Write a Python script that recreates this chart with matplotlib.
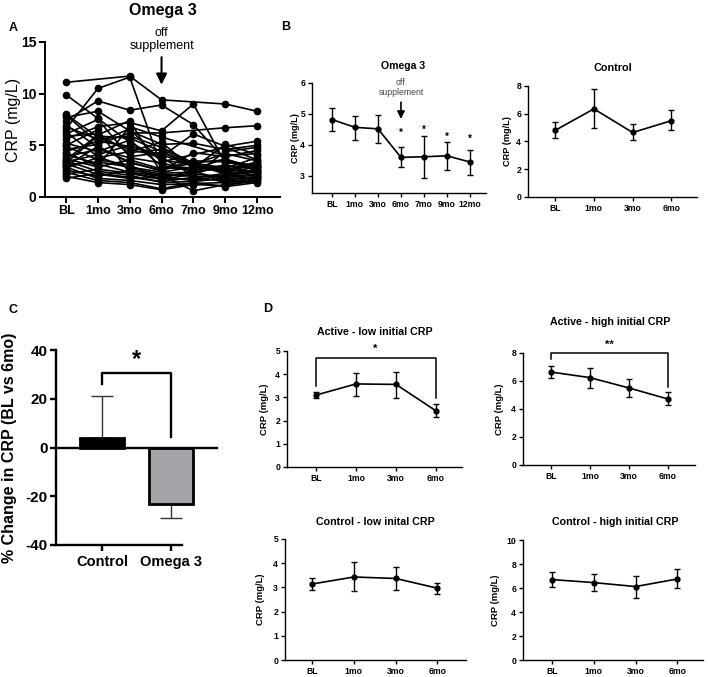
import matplotlib
matplotlib.use('Agg')
import matplotlib.pyplot as plt
import numpy as np

plt.rcParams['font.family'] = ['Liberation Sans', 'DejaVu Sans']
plt.rcParams['font.weight'] = 'bold'
plt.rcParams['axes.labelweight'] = 'bold'
plt.rcParams['axes.unicode_minus'] = False

nan = np.nan

# ---- Panel A: individual CRP (mg/L), omega 3 group ----
timepoints_a = ['BL', '1mo', '3mo', '6mo', '7mo', '9mo', '12mo']
crp_individual = [
    [11.1, nan, 11.7, 9.4, nan, 9.0, 8.3],
    [6.6, 10.5, 11.6, 2.9, 2.6, 3.1, 2.3],
    [9.9, 7.6, 5.3, 3.6, 3.1, 2.7, 2.4],
    [7.4, 9.3, 8.4, 8.9, 7.0, 3.6, 2.9],
    [5.6, 6.8, 7.2, 6.4, 9.0, 3.3, 3.1],
    [4.6, 5.1, 6.2, 6.2, nan, 6.7, 6.9],
    [8.0, 5.8, 4.6, 3.9, 6.1, 4.9, 5.4],
    [7.7, 8.3, 6.4, 5.1, 5.2, 4.6, 5.0],
    [7.0, 4.8, 3.4, 2.5, 4.3, 3.9, 4.5],
    [6.8, 5.6, 5.9, 4.8, 3.3, 2.8, 3.8],
    [6.3, 3.9, 2.8, 2.2, 2.0, 1.9, 2.1],
    [5.9, 6.1, 4.3, 4.6, 3.2, 4.2, 3.5],
    [5.2, 4.4, 5.5, 3.0, 2.8, 5.1, 4.1],
    [4.9, 3.6, 3.1, 1.6, 1.8, 2.3, 2.6],
    [4.4, 5.4, 4.9, 4.1, 3.0, 2.5, 3.2],
    [4.1, 3.2, 2.4, 2.0, 2.3, 3.0, 2.8],
    [3.9, 4.6, 3.8, 3.3, 2.5, 1.6, 2.0],
    [3.7, 2.9, 3.6, 2.7, 3.5, 3.4, 3.0],
    [3.5, 2.5, 2.1, 1.4, 1.5, 1.8, 1.9],
    [3.4, 4.1, 5.0, 3.8, 2.1, 4.4, 4.8],
    [3.2, 2.2, 1.8, 1.9, 1.6, 2.1, 2.4],
    [3.1, 3.4, 2.9, 2.4, 2.9, 2.6, 3.4],
    [2.9, 1.8, 1.6, 1.2, 1.3, 1.4, 1.6],
    [2.8, 3.8, 4.4, 5.3, 2.7, 3.7, 2.7],
    [2.6, 2.0, 2.6, 2.1, 0.6, 1.2, 1.5],
    [2.4, 1.6, 1.4, 0.8, 1.4, 1.0, 1.4],
    [2.2, 2.7, 2.3, 1.7, 2.2, 2.0, 2.2],
    [2.0, 1.4, 1.2, 0.7, 1.2, 1.1, 1.7],
    [1.8, 2.3, 1.9, 1.5, 1.9, 1.5, 1.8],
    [3.6, 6.0, 7.4, 2.3, 2.4, 2.9, 3.1],
    [6.1, 7.5, 3.9, 4.3, nan, 2.2, 2.5],
    [4.3, 3.0, 6.8, 5.8, nan, 4.0, 4.2],
    [3.0, 4.9, 3.3, 2.6, 3.3, 3.6, 2.5],
    [5.0, 6.5, 2.3, 1.8, 2.6, 1.3, 1.9],
    [7.9, 5.3, 6.6, 3.4, nan, 4.8, 3.6],
    [3.3, 5.9, 5.7, 4.4, 2.9, 2.4, 2.9],
]

# ---- Panel B: group means with error bars ----
omega_mean = [4.82, 4.57, 4.52, 3.6, 3.62, 3.65, 3.45]
omega_lo = [4.45, 4.15, 4.05, 3.28, 2.95, 3.18, 3.03]
omega_hi = [5.2, 4.95, 4.98, 3.92, 4.28, 4.08, 3.85]
omega_star = [None, None, None, 4.39, 4.5, 4.26, 4.19]

timepoints_d = ['BL', '1mo', '3mo', '6mo']
control_mean = [4.8, 6.35, 4.65, 5.5]
control_lo = [4.25, 4.95, 4.1, 4.8]
control_hi = [5.4, 7.75, 5.25, 6.25]

# ---- Panel C: % change BL vs 6mo ----
groups_c = ['Control', 'Omega 3']
pct_change = [4.1, -23.3]
pct_err = [17.1, 5.7]

# ---- Panel D: subgroups ----
act_low_mean = [3.1, 3.58, 3.56, 2.42]
act_low_lo = [2.97, 3.06, 2.97, 2.16]
act_low_hi = [3.23, 4.05, 4.1, 2.7]

act_high_mean = [6.64, 6.24, 5.5, 4.71]
act_high_lo = [6.21, 5.52, 4.86, 4.29]
act_high_hi = [7.07, 6.95, 6.14, 5.2]

ctl_low_mean = [3.14, 3.43, 3.37, 2.97]
ctl_low_lo = [2.89, 2.85, 2.89, 2.73]
ctl_low_hi = [3.39, 4.05, 3.84, 3.18]

ctl_high_mean = [6.7, 6.45, 6.12, 6.75]
ctl_high_lo = [6.1, 5.78, 5.2, 6.0]
ctl_high_hi = [7.33, 7.2, 7.0, 7.6]

W, H = 708, 677
fig = plt.figure(figsize=(W / 100, H / 100), dpi=100)


def px_axes(x0, x1, ytop, ybot):
    return fig.add_axes([x0 / W, 1 - ybot / H, (x1 - x0) / W, (ybot - ytop) / H])


def ftxt(x, y, s, **kw):
    kw.setdefault('ha', 'center')
    kw.setdefault('va', 'center')
    fig.text(x / W, 1 - y / H, s, **kw)


def style(ax, lw, size):
    for side in ['top', 'right']:
        ax.spines[side].set_visible(False)
    for side in ['left', 'bottom']:
        ax.spines[side].set_linewidth(lw)
    ax.tick_params(direction='out', width=lw, length=4 if lw > 1.2 else 3,
                   labelsize=size, pad=2)


def mean_plot(ax, labels, mean, lo, hi):
    x = np.arange(len(labels))
    m = np.array(mean)
    yerr = [m - np.array(lo), np.array(hi) - m]
    ax.errorbar(x, m, yerr=yerr, fmt='-o', color='black', ms=3.5, lw=1.2,
                elinewidth=1.0, capsize=2.2, capthick=1.0, clip_on=False)
    ax.set_xticks(x)
    ax.set_xticklabels(labels)


# ---------------- Panel A ----------------
axA = px_axes(45, 280, 42, 197)
xa = np.arange(len(timepoints_a))
for row in crp_individual:
    r = np.array(row)
    ok = ~np.isnan(r)
    axA.plot(xa[ok], r[ok], '-o', color='black', lw=1.2, ms=4.5, clip_on=False)
axA.set_xlim(-0.66, 6.72)
axA.set_ylim(0, 15)
axA.set_yticks([0, 5, 10, 15])
axA.set_xticks(xa)
axA.set_xticklabels(timepoints_a)
style(axA, 1.4, 9)
axA.tick_params(axis='y', labelsize=10)
axA.set_ylabel('CRP (mg/L)', fontsize=11.5, fontweight='normal')
axA.yaxis.set_label_coords((21 - 45) / 235, 0.5)
axA.text(3, 16.45, 'off\nsupplement', ha='center', va='top', fontsize=9,
         fontweight='normal', linespacing=1.15, clip_on=False)
axA.annotate('', xy=(3, 10.6), xytext=(3, 13.8), annotation_clip=False,
             arrowprops=dict(arrowstyle='-|>', lw=1.5, color='black',
                             mutation_scale=16))
ftxt(163, 11, 'Omega 3', fontsize=11.5)
ftxt(13, 28, 'A', fontsize=9)

# ---------------- Panel B left ----------------
axB = px_axes(312, 486, 83, 193)
mean_plot(axB, timepoints_a, omega_mean, omega_lo, omega_hi)
axB.set_xlim(-0.87, 6.70)
axB.set_ylim(2.45, 6)
axB.set_yticks([3, 4, 5, 6])
style(axB, 1.0, 6.2)
axB.set_ylabel('CRP (mg/L)', fontsize=6.6)
axB.yaxis.set_label_coords((300 - 312) / 174, 0.5)
for i, s in enumerate(omega_star):
    if s is not None:
        axB.text(i, s, '*', ha='center', va='center', fontsize=7, clip_on=False)
axB.text(3, 6.15, 'off\nsupplement', ha='center', va='top', fontsize=6.3,
         fontweight='normal', color='#444444', linespacing=1.1, clip_on=False)
axB.annotate('', xy=(3, 4.75), xytext=(3, 5.47), annotation_clip=False,
             arrowprops=dict(arrowstyle='-|>', lw=1.2, color='black',
                             mutation_scale=11))
ftxt(403, 66, 'Omega 3', fontsize=7.6)
ftxt(286, 27, 'B', fontsize=9)

# ---------------- Panel B right ----------------
axBc = px_axes(528, 697, 86, 197)
mean_plot(axBc, timepoints_d, control_mean, control_lo, control_hi)
axBc.set_xlim(-0.70, 3.66)
axBc.set_ylim(0, 8)
axBc.set_yticks([0, 2, 4, 6, 8])
style(axBc, 1.0, 6.2)
axBc.set_ylabel('CRP (mg/L)', fontsize=6.6)
axBc.yaxis.set_label_coords((512 - 528) / 169, 0.5)
ftxt(613, 68, 'Control', fontsize=7.8)

# ---------------- Panel C ----------------
axC = px_axes(56, 217, 350, 545)
xc = np.arange(len(groups_c))
axC.errorbar(xc[0], pct_change[0], yerr=[[0], [pct_err[0]]], fmt='none',
             ecolor='#333333', elinewidth=1.0, capsize=8, capthick=1.0, zorder=2)
axC.errorbar(xc[1], pct_change[1], yerr=[[pct_err[1]], [0]], fmt='none',
             ecolor='#333333', elinewidth=1.0, capsize=8, capthick=1.0, zorder=2)
axC.bar(xc, pct_change, width=0.64, color=['black', '#a4a4a8'],
        edgecolor='black', linewidth=2, zorder=3)
axC.set_xlim(-0.667, 1.667)
axC.set_ylim(-40, 40)
axC.set_yticks([-40, -20, 0, 20, 40])
axC.set_xticks(xc)
axC.set_xticklabels(groups_c)
style(axC, 1.7, 11)
axC.tick_params(axis='x', labelsize=10.5, pad=3)
axC.spines['bottom'].set_bounds(-0.667, 1.16)
axC.plot([-0.667, 1.667], [0, 0], color='black', lw=1.7, clip_on=False, zorder=4)
axC.plot([0, 0, 1, 1], [26, 30.7, 30.7, 4.5], color='black', lw=1.7, zorder=4)
axC.text(0.5, 36, '*', ha='center', va='center', fontsize=17)
axC.set_ylabel('% Change in CRP (BL vs 6mo)', fontsize=11.5)
axC.yaxis.set_label_coords((17 - 56) / 161, 0.5)
ftxt(13, 310, 'C', fontsize=9)

# ---------------- Panel D ----------------
ftxt(268, 309, 'D', fontsize=9)

axD1 = px_axes(287, 462, 351, 467)
mean_plot(axD1, timepoints_d, act_low_mean, act_low_lo, act_low_hi)
axD1.set_xlim(-0.725, 3.65)
axD1.set_ylim(0, 5)
axD1.set_yticks([0, 1, 2, 3, 4, 5])
style(axD1, 1.0, 6.2)
axD1.set_ylabel('CRP (mg/L)', fontsize=6.8)
axD1.yaxis.set_label_coords((269 - 287) / 175, 0.5)
axD1.plot([0, 0, 3, 3], [3.5, 4.7, 4.7, 2.97], color='black', lw=1.1, clip_on=False)
axD1.text(1.48, 5.08, '*', ha='center', va='center', fontsize=8, clip_on=False)
ftxt(375, 332, 'Active - low initial CRP', fontsize=7.7)

axD2 = px_axes(523, 695, 353, 465)
mean_plot(axD2, timepoints_d, act_high_mean, act_high_lo, act_high_hi)
axD2.set_xlim(-0.72, 3.69)
axD2.set_ylim(0, 8)
axD2.set_yticks([0, 2, 4, 6, 8])
style(axD2, 1.0, 6.2)
axD2.set_ylabel('CRP (mg/L)', fontsize=6.8)
axD2.yaxis.set_label_coords((504 - 523) / 172, 0.5)
axD2.plot([0, 0, 3, 3], [7.6, 8.0, 8.0, 5.6], color='black', lw=1.1, clip_on=False)
axD2.text(1.49, 8.55, '**', ha='center', va='center', fontsize=8, clip_on=False)
ftxt(610, 322, 'Active - high initial CRP', fontsize=7.7)

axD3 = px_axes(285, 466, 539, 660)
mean_plot(axD3, timepoints_d, ctl_low_mean, ctl_low_lo, ctl_low_hi)
axD3.set_xlim(-0.65, 3.69)
axD3.set_ylim(0, 5)
axD3.set_yticks([0, 1, 2, 3, 4, 5])
style(axD3, 1.0, 6.2)
axD3.set_ylabel('CRP (mg/L)', fontsize=6.8)
axD3.yaxis.set_label_coords((265 - 285) / 181, 0.5)
ftxt(375, 522, 'Control - low inital CRP', fontsize=7.7)

axD4 = px_axes(523, 703, 540, 660)
mean_plot(axD4, timepoints_d, ctl_high_mean, ctl_high_lo, ctl_high_hi)
axD4.set_xlim(-0.70, 3.62)
axD4.set_ylim(0, 10)
axD4.set_yticks([0, 2, 4, 6, 8, 10])
style(axD4, 1.0, 6.2)
axD4.set_ylabel('CRP (mg/L)', fontsize=6.8)
axD4.yaxis.set_label_coords((500 - 523) / 180, 0.5)
ftxt(615, 522, 'Control - high initial CRP', fontsize=7.7)

plt.savefig('out.png', dpi=100)
